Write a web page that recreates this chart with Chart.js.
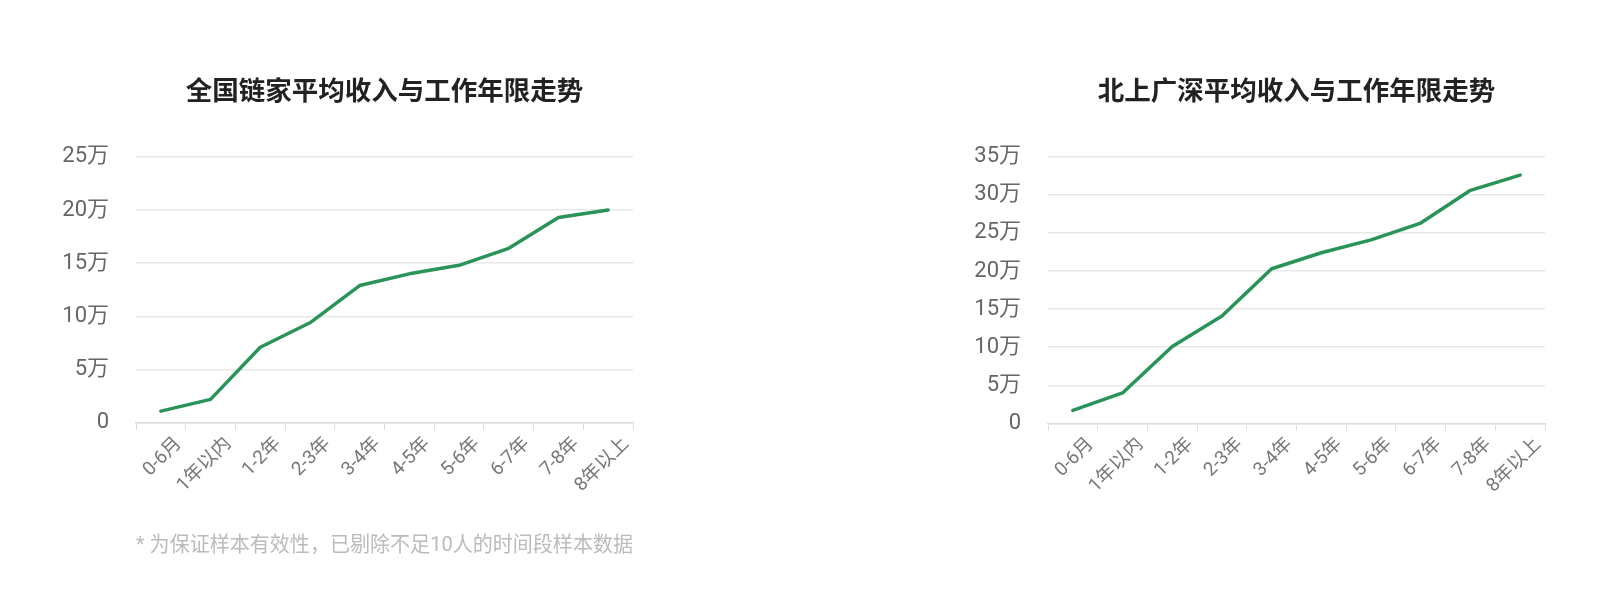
<!DOCTYPE html>
<html>
<head>
<meta charset="utf-8">
<script src="https://cdn.jsdelivr.net/npm/chart.js@4"></script>
<style>
  html, body { margin: 0; padding: 0; background: #fff; }
  body { width: 1622px; height: 602px; position: relative; overflow: hidden; }
  .box { position: absolute; top: 0; width: 700px; height: 602px; }
</style>
</head>
<body>
<div class="box" style="left:0px"><canvas id="leftChart"></canvas></div>
<div class="box" style="left:912px"><canvas id="rightChart"></canvas></div>
<script>
// categories (work years)
const years = ['0-6月', '1年以内', '1-2年', '2-3年', '3-4年', '4-5年', '5-6年', '6-7年', '7-8年', '8年以上'];

// average income, unit: 万
const nationalIncome = [1.1, 2.2, 7.1, 9.4, 12.9, 14.0, 14.8, 16.4, 19.3, 20.0];
const tier1Income = [1.7, 4.0, 10.1, 14.1, 20.3, 22.4, 24.1, 26.3, 30.6, 32.6];

// y tick labels
const leftTicks = ['0', '5万', '10万', '15万', '20万', '25万'];
const rightTicks = ['0', '5万', '10万', '15万', '20万', '25万', '30万', '35万'];

const titles = ['全国链家平均收入与工作年限走势', '北上广深平均收入与工作年限走势'];
const footnote = '* 为保证样本有效性，已剔除不足10人的时间段样本数据';

const fontFamily = "Roboto, 'Noto Sans CJK SC', sans-serif";
const lineColor = '#2a9458';

// build one line chart
function makeChart(id, title, values, tickLabels, note){
  let ctx = document.getElementById(id).getContext('2d');
  return new Chart(ctx, {
    type: 'line',
    data: {
      labels: years,
      datasets: [{
        data: values,
        borderColor: lineColor,
        borderWidth: 3.5,
        borderCapStyle: 'round',
        borderJoinStyle: 'round',
        pointRadius: 0,
        tension: 0,
        fill: false
      }]
    },
    options: {
      responsive: true,
      maintainAspectRatio: false,
      animation: false,
      // no footnote on the right chart, keep the same plot height
      layout: { padding: { left: 0, right: 67, top: 0, bottom: note === '' ? 68.6 : 0 } },
      plugins: {
        legend: { display: false },
        tooltip: { enabled: false },
        title: {
          display: true,
          text: title,
          fullSize: false,
          color: '#222',
          font: { family: "'Noto Sans CJK SC', sans-serif", size: 26.5, weight: 'bold', lineHeight: 1.2 },
          padding: { top: 74, bottom: 51 }
        },
        subtitle: {
          display: note !== '',
          text: note,
          position: 'bottom',
          fullSize: false,
          color: '#bbb',
          font: { family: fontFamily, size: 21, lineHeight: 1.2 },
          padding: { top: 0, bottom: 44 }
        }
      },
      scales: {
        x: {
          offset: true,
          grid: {
            offset: true,
            drawOnChartArea: false,
            drawTicks: true,
            tickLength: 7,
            color: '#dcdcdc'
          },
          border: { display: true, color: '#dcdcdc', width: 1.5 },
          ticks: {
            autoSkip: false,
            minRotation: 45,
            maxRotation: 45,
            labelOffset: 18,
            padding: 3,
            color: '#777',
            font: { family: fontFamily, size: 19 }
          },
          afterFit: function(scale){ scale.height = 110; }
        },
        y: {
          min: 0,
          max: (tickLabels.length - 1) * 5,
          grid: { drawTicks: false, color: '#e8e8e8', lineWidth: 1.5 },
          border: { display: false },
          ticks: {
            stepSize: 5,
            padding: 27,
            color: '#666',
            font: { family: fontFamily, size: 22 },
            callback: function(value){ return tickLabels[value / 5]; }
          },
          afterFit: function(scale){ scale.width = 136; }
        }
      }
    }
  });
}

makeChart('leftChart', titles[0], nationalIncome, leftTicks, footnote);
makeChart('rightChart', titles[1], tier1Income, rightTicks, '');
</script>
</body>
</html>
